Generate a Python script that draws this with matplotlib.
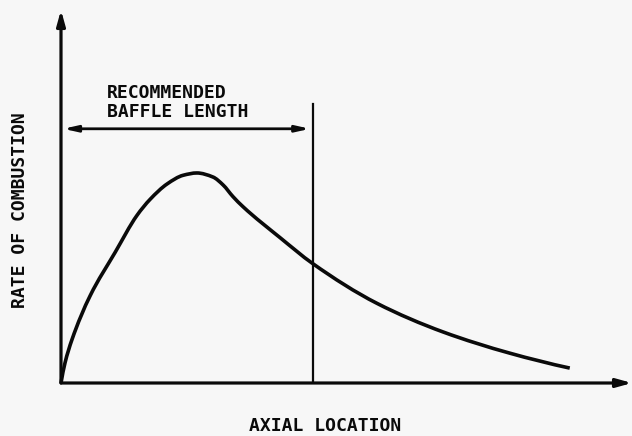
#!/usr/bin/env python3
"""Schematic: rate of combustion along the chamber axis, with baffle length."""

import matplotlib
matplotlib.use("Agg")
import matplotlib.pyplot as plt
from matplotlib.patches import PathPatch
from matplotlib.path import Path
import numpy as np

# Axial location vs. rate of combustion (arbitrary units)
AXIAL = [0.00, 0.07, 0.19, 0.51, 0.95, 1.33, 1.56, 1.86, 2.14, 2.38, 2.66,
         2.84, 3.01, 3.19, 3.84, 4.41, 5.53, 6.69, 7.86, 8.91]
RATE = [0.00, 0.35, 0.75, 1.52, 2.28, 2.92, 3.20, 3.47, 3.62, 3.66, 3.59,
        3.45, 3.25, 3.07, 2.53, 2.08, 1.39, 0.89, 0.52, 0.26]

BAFFLE_END = 4.41       # end of recommended baffle
BAFFLE_LINE_TOP = 4.86  # top of the vertical marker
BAFFLE_ARROW_Y = 4.43
X_MAX, Y_MAX = 10.0, 6.5

INK = "#0a0a0a"
BG = "#f7f7f7"
FONT = "DejaVu Sans Mono"


def pchip_slopes(x, y):
    h = np.diff(x)
    delta = np.diff(y) / h
    d = np.zeros_like(y)
    for k in range(1, len(x) - 1):
        if delta[k - 1] * delta[k] > 0:
            w1 = 2 * h[k] + h[k - 1]
            w2 = h[k] + 2 * h[k - 1]
            d[k] = (w1 + w2) / (w1 / delta[k - 1] + w2 / delta[k])
    for k, (i, j) in ((0, (0, 1)), (-1, (-1, -2))):
        hk, hn = h[i], h[j]
        dk = ((2 * hk + hn) * delta[i] - hk * delta[j]) / (hk + hn)
        if np.sign(dk) != np.sign(delta[i]):
            dk = 0.0
        d[k] = dk
    return d


def smooth_path(xs, ys):
    """Monotone cubic (PCHIP) through the points, as a Bezier path."""
    x = np.asarray(xs, float)
    y = np.asarray(ys, float)
    d = pchip_slopes(x, y)
    verts = [(x[0], y[0])]
    codes = [Path.MOVETO]
    for i in range(len(x) - 1):
        h = x[i + 1] - x[i]
        verts += [(x[i] + h / 3, y[i] + d[i] * h / 3),
                  (x[i + 1] - h / 3, y[i + 1] - d[i + 1] * h / 3),
                  (x[i + 1], y[i + 1])]
        codes += [Path.CURVE4] * 3
    return Path(verts, codes)


fig = plt.figure(figsize=(6.32, 4.36), dpi=100, facecolor=BG)
ax = fig.add_axes([61 / 632, 53 / 436, 571 / 632, 373 / 436])
ax.set_facecolor(BG)
ax.set_xlim(0, X_MAX)
ax.set_ylim(0, Y_MAX)
ax.axis("off")

# axes drawn as arrows
axis_props = dict(arrowstyle="-|>,head_length=0.9,head_width=0.25",
                  color=INK, lw=2.3, shrinkA=0, shrinkB=0)
ax.annotate("", xy=(0, Y_MAX), xytext=(0, 0), arrowprops=axis_props,
            annotation_clip=False)
ax.annotate("", xy=(X_MAX, 0), xytext=(0, 0), arrowprops=axis_props,
            annotation_clip=False)

ax.add_patch(PathPatch(smooth_path(AXIAL, RATE), facecolor="none",
                       edgecolor=INK, lw=2.6, joinstyle="round",
                       capstyle="butt", clip_on=False))

ax.plot([BAFFLE_END, BAFFLE_END], [0, BAFFLE_LINE_TOP], color=INK, lw=1.6)

ax.annotate("", xy=(BAFFLE_END - 0.05, BAFFLE_ARROW_Y),
            xytext=(0.04, BAFFLE_ARROW_Y),
            arrowprops=dict(arrowstyle="<|-|>,head_length=0.8,head_width=0.18",
                            color=INK, lw=2.0, shrinkA=0, shrinkB=0))

text_kw = dict(family=FONT, fontsize=13, color=INK, weight="bold")
ax.text(0.81, 4.97, "RECOMMENDED", ha="left", va="baseline", **text_kw)
ax.text(0.81, 4.64, "BAFFLE LENGTH", ha="left", va="baseline", **text_kw)

fig.text(20 / 632, 1 - 210 / 436, "RATE OF COMBUSTION", rotation=90,
         ha="center", va="center", **text_kw)
fig.text(325 / 632, 1 - 426 / 436, "AXIAL LOCATION",
         ha="center", va="center", **text_kw)

fig.savefig("out.png", dpi=100, facecolor=BG)
